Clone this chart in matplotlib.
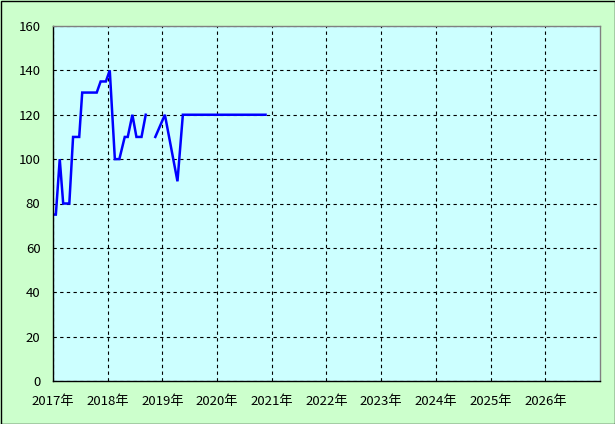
import matplotlib
matplotlib.use("Agg")
import matplotlib.pyplot as plt
import pandas as pd
import numpy as np

plt.rcParams['font.family'] = ['Noto Sans CJK JP', 'DejaVu Sans']

dates = ["2017-01-05", "2017-01-20", "2017-02-15", "2017-03-10", "2017-04-20",
         "2017-05-15", "2017-06-25", "2017-07-15", "2017-10-20", "2017-11-15",
         "2017-12-20", "2018-01-15", "2018-02-18", "2018-03-20", "2018-04-25",
         "2018-05-15", "2018-06-15", "2018-07-12", "2018-08-15", "2018-09-12",
         "2018-10-15", "2018-11-15", "2019-01-18", "2019-04-12", "2019-05-18",
         "2020-11-20"]
values = [75, 75, 100, 80, 80,
          110, 110, 130, 130, 135,
          135, 140, 100, 100, 110,
          110, 120, 110, 110, 120,
          np.nan, 110, 120, 90, 120,
          120]
years = list(range(2017, 2027))
year_labels = [f"{y}年" for y in years]
y_ticks = list(range(0, 161, 20))

x = pd.to_datetime(dates)

fig = plt.figure(figsize=(6.15, 4.24), dpi=100, facecolor="#ccffcc")
ax = fig.add_axes([53/615, 43/424, 547/615, 355/424])
ax.set_facecolor("#ccffff")

ax.plot(x, values, color="#0000ff", lw=1.8, solid_joinstyle="miter")

ax.set_xlim(pd.Timestamp("2017-01-01"), pd.Timestamp("2027-01-01"))
ax.set_ylim(0, 160)
ax.set_xticks([pd.Timestamp(f"{y}-01-01") for y in years])
ax.set_xticklabels(year_labels)
ax.set_yticks(y_ticks)
ax.tick_params(length=0, labelsize=9.5, colors="black")
ax.tick_params(axis="x", pad=10)
ax.tick_params(axis="y", pad=9)
ax.grid(True, color="black", linestyle=(0, (3, 3)), lw=0.8)

for s in ["left", "bottom"]:
    ax.spines[s].set_color("black")
    ax.spines[s].set_linewidth(1.0)
for s in ["top", "right"]:
    ax.spines[s].set_color("#808080")
    ax.spines[s].set_linewidth(1.0)

border = plt.Rectangle((0.5/615, 0.5/424), 1 - 1/615, 1 - 1/424, transform=fig.transFigure,
                       fill=False, edgecolor="black", lw=1.0)
fig.patches.append(border)

fig.savefig("out.png", dpi=100, facecolor=fig.get_facecolor())
